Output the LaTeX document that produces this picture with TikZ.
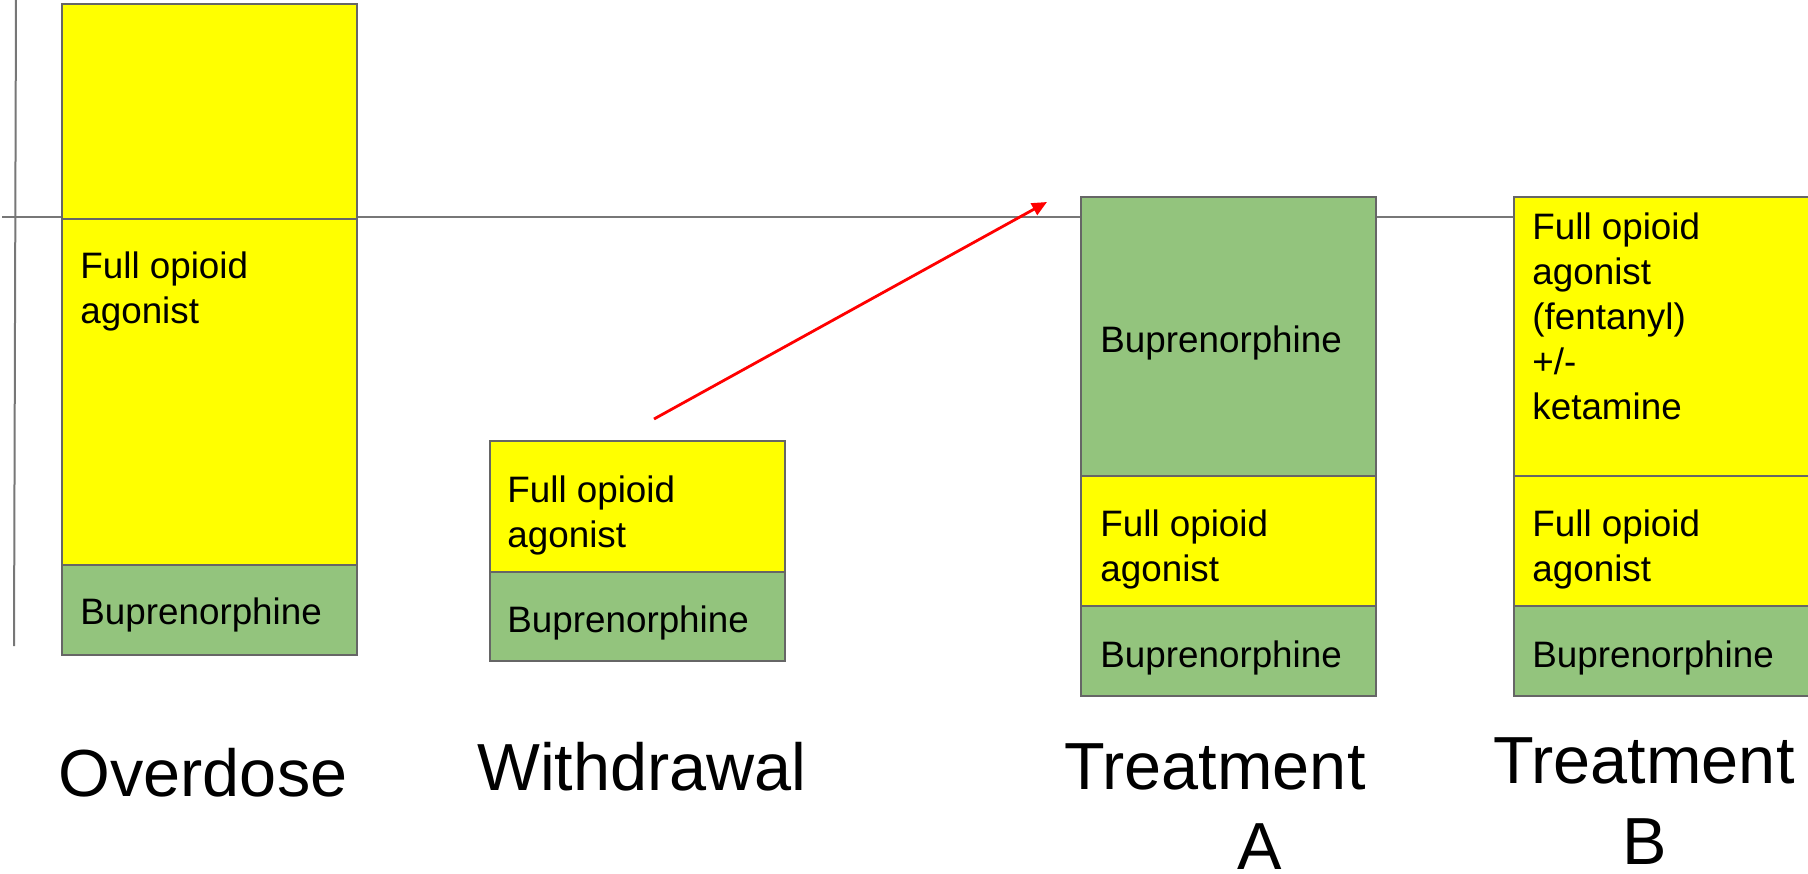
\documentclass[tikz,border=0pt]{standalone}
\usepackage{fontspec}
\setmainfont{Liberation Sans}
\usetikzlibrary{arrows.meta}
\definecolor{dosegreen}{HTML}{93C47D}
\definecolor{doseyellow}{HTML}{FFFF00}
\definecolor{framegray}{HTML}{666666}
\definecolor{axisgray}{HTML}{777777}
\begin{document}
\begin{tikzpicture}[x=0.5pt,y=-0.5pt,
  seg/.style={draw=framegray, line width=0.9pt, inner sep=0pt, anchor=north west, minimum width=147.5pt},
  yel/.style={seg, fill=doseyellow},
  grn/.style={seg, fill=dosegreen},
  txt/.style={inner sep=0pt, anchor=north west, align=left, font=\fontsize{18.4}{22.5}\selectfont},
  big/.style={inner sep=0pt, font=\fontsize{33.3}{40}\selectfont},
  axis/.style={draw=axisgray, line width=1pt},
  jump/.style={draw=red, line width=1.4pt, -{Triangle[length=7.5pt,width=6.5pt]}}]
\useasboundingbox (0,0) rectangle (1808,873);

% axes
\coordinate (vtop) at (16,0);
\coordinate (vbot) at (14,646);
\coordinate (hleft) at (2,217);
\coordinate (hright) at (1808,217);
\draw[axis] (vtop) -- (vbot);
\draw[axis] (hleft) -- (hright);

% Overdose column
\node[yel, minimum height=107.5pt] (odtop) at (61,3) {};
\node[yel, minimum height=173pt] (odfull) at (61,218) {};
\node[grn, minimum height=45pt] (odbup) at (61,564) {};
\node[txt] (odfullt) at (80,251) {Full opioid\\agonist};
\node[txt] (odbupt) at (80,597) {Buprenorphine};
\node[big] (odlab) at (203,773) {Overdose};

% Withdrawal column
\node[yel, minimum height=65.5pt] (wdfull) at (489,440) {};
\node[grn, minimum height=44.5pt] (wdbup) at (489,571) {};
\node[txt] (wdfullt) at (507,475) {Full opioid\\agonist};
\node[txt] (wdbupt) at (507,605) {Buprenorphine};
\node[big] (wdlab) at (642,767) {Withdrawal};

% Treatment A column
\node[grn, minimum height=139.5pt] (tabig) at (1080,196) {};
\node[yel, minimum height=65pt] (tafull) at (1080,475) {};
\node[grn, minimum height=45pt] (tabup) at (1080,605) {};
\node[txt] (tabigt) at (1100,325) {Buprenorphine};
\node[txt] (tafullt) at (1100,509) {Full opioid\\agonist};
\node[txt] (tabupt) at (1100,640) {Buprenorphine};
\node[big] (talab) at (1215,767) {Treatment};
\node[big] (talabA) at (1260,847) {A};

% Treatment B column
\node[yel, minimum height=139.5pt] (tbbig) at (1513,196) {};
\node[yel, minimum height=65pt] (tbfull) at (1513,475) {};
\node[grn, minimum height=45pt] (tbbup) at (1513,605) {};
\node[txt] (tbbigt) at (1532,212) {Full opioid\\agonist\\(fentanyl)\\+/-\\ketamine};
\node[txt] (tbfullt) at (1532,509) {Full opioid\\agonist};
\node[txt] (tbbupt) at (1532,640) {Buprenorphine};
\node[big] (tblab) at (1644,761) {Treatment};
\node[big] (tblabB) at (1645,842) {B};

% red arrow
\coordinate (jstart) at (654,419);
\coordinate (jend) at (1047,202);
\draw[jump] (jstart) -- (jend);
\end{tikzpicture}
\end{document}
